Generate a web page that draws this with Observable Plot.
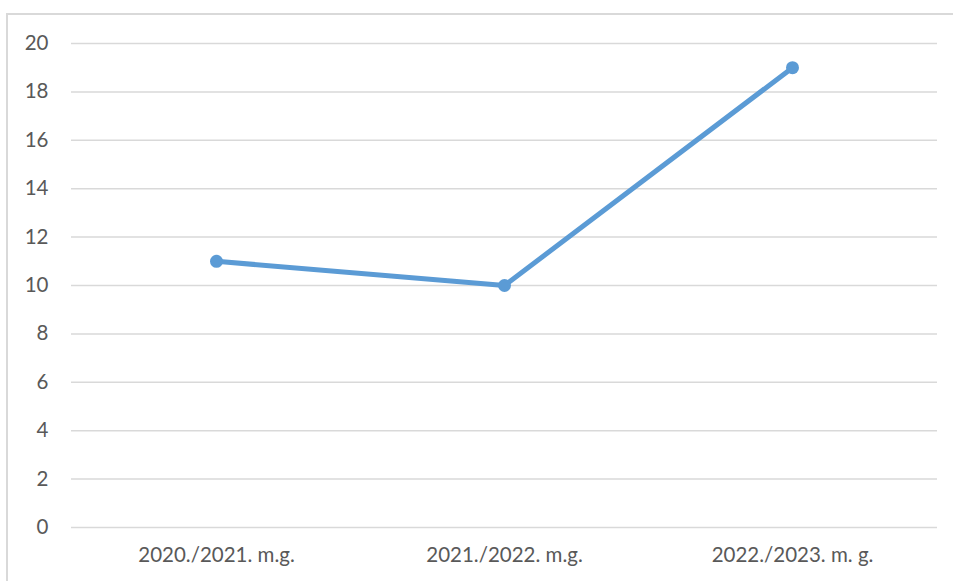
<!DOCTYPE html>
<html>
<head>
<meta charset="utf-8">
<script src="https://cdn.jsdelivr.net/npm/d3@7"></script>
<script src="https://cdn.jsdelivr.net/npm/@observablehq/plot@0.6"></script>
<style>
  html, body { margin: 0; padding: 0; background: #fff; overflow: hidden; }
  #wrap { position: relative; width: 953px; height: 581px; }
  #border { position: absolute; left: 6px; top: 13px; width: 960px; height: 600px;
            border: 2px solid #d9d9d9; box-sizing: border-box; }
  #wrap svg { position: absolute; left: 0; top: 0; }
</style>
</head>
<body>
<div id="wrap"><div id="border"></div></div>
<script>
const categories = ["2020./2021. m.g.", "2021./2022. m.g.", "2022./2023. m. g."];
const values = [11, 10, 19];
const yTicks = [0, 2, 4, 6, 8, 10, 12, 14, 16, 18, 20];

const data = categories.map((c, i) => ({category: c, value: values[i]}));

const chart = Plot.plot({
  width: 953,
  height: 581,
  marginLeft: 71,
  marginRight: 16,
  marginTop: 43,
  marginBottom: 54,
  style: {fontFamily: "Lato, 'Open Sans', sans-serif", fontSize: "20.5px", color: "#595959", background: "transparent"},
  x: {type: "point", domain: categories, padding: 0.5, label: null},
  y: {domain: [0, 20], label: null},
  marks: [
    Plot.gridY(yTicks, {stroke: "#d9d9d9", strokeOpacity: 1, strokeWidth: 1.5}),
    Plot.axisY(yTicks, {tickSize: 0, tickPadding: 23, fill: "#595959", fontSize: 20.5, label: null}),
    Plot.axisX({tickSize: 0, tickPadding: 20, fill: "#595959", fontSize: 20.5, label: null}),
    Plot.line(data, {x: "category", y: "value", stroke: "#5b9bd5", strokeWidth: 5, curve: "linear"}),
    Plot.dot(data, {x: "category", y: "value", fill: "#5b9bd5", r: 6.5})
  ]
});
document.getElementById("wrap").appendChild(chart);
</script>
</body>
</html>
